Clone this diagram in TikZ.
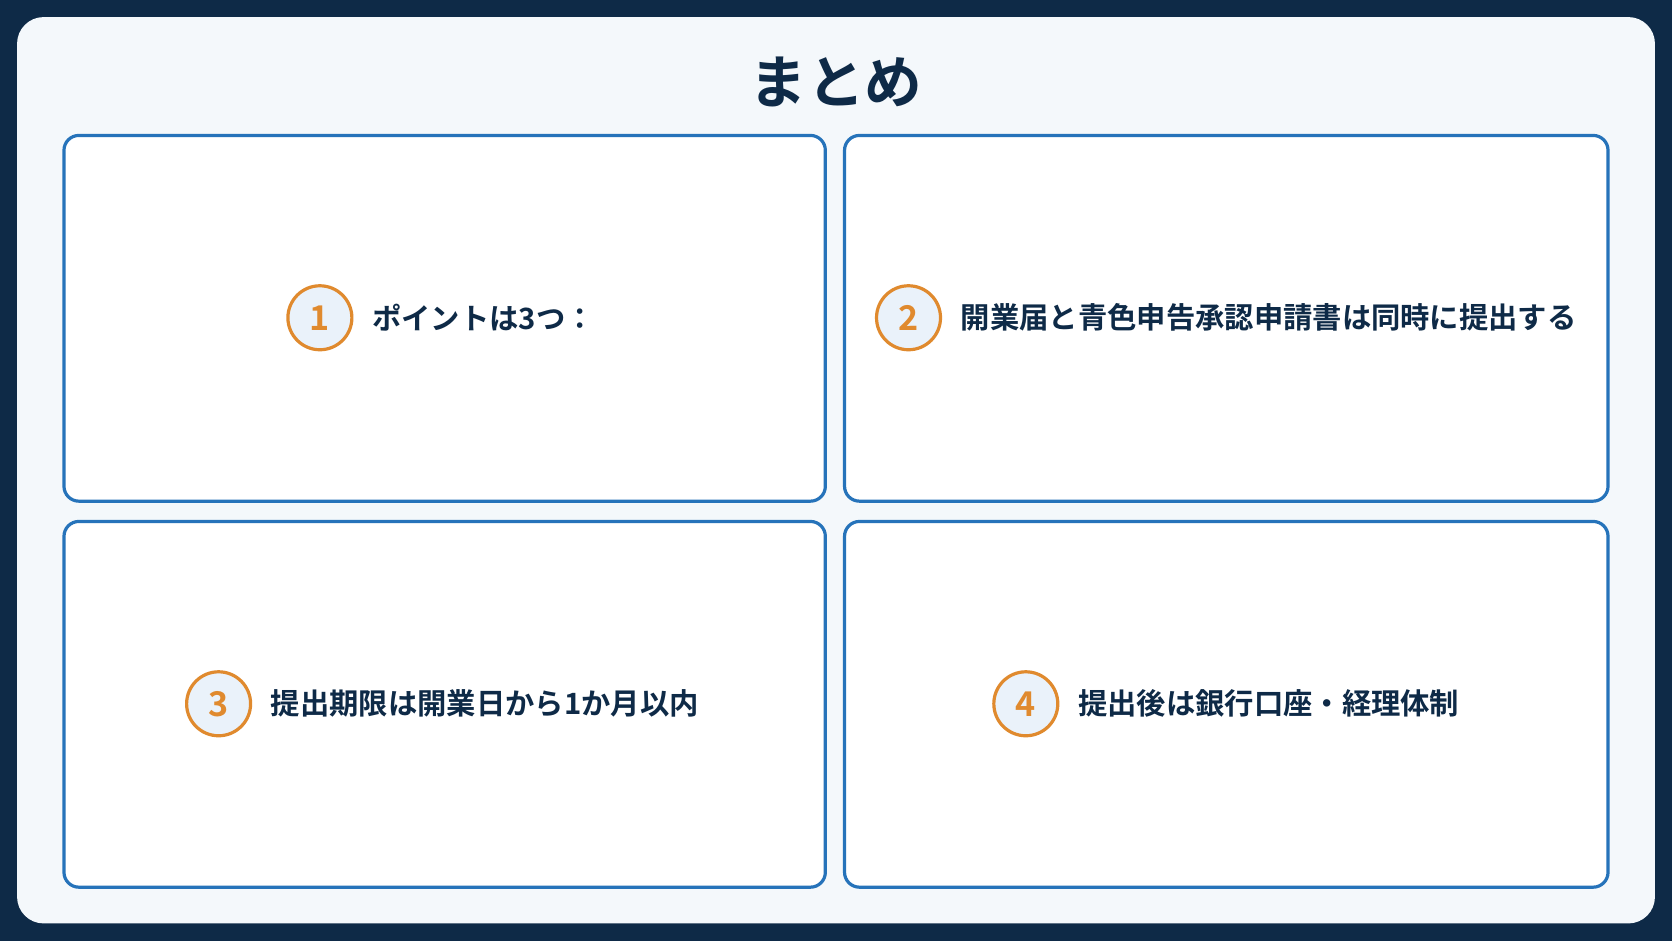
\documentclass[tikz,border=0pt]{standalone}
\usepackage{fontspec}
\newfontfamily\cjk{Noto Sans CJK JP Bold}
\usetikzlibrary{positioning}
\definecolor{navy}{HTML}{0E2A47}
\definecolor{panel}{HTML}{F4F8FB}
\definecolor{cardblue}{HTML}{2673BA}
\definecolor{accent}{HTML}{E08A2E}
\definecolor{badgefill}{HTML}{EAF2FA}

\begin{document}
\begin{tikzpicture}[
    x=1pt, y=-1pt,
    card/.style = {draw=cardblue, line width=3pt, fill=white, rounded corners=14pt},
    badge/.style = {circle, draw=accent, line width=3pt, fill=badgefill,
minimum size=60pt, inner sep=0pt, text=accent, font=\cjk\fontsize{32}{32}\selectfont},
    point/.style = {right=14pt of #1, anchor=west, text=navy, font=\cjk\fontsize{27.5}{27.5}\selectfont},
    node distance=14pt
]

  \fill[navy] (0,0) rectangle (1568,882);
  \useasboundingbox (0,0) rectangle (1568,882);
  \fill[panel, rounded corners=25pt] (16,16) rectangle (1552,866);
  \node (title) [text=navy, font=\cjk\fontsize{54}{54}\selectfont] at (784,77) {まとめ};

  % cards
  \draw[card] (60,127) rectangle (774,470);
  \draw[card] (792,127) rectangle (1508,470);
  \draw[card] (60,489) rectangle (774,832);
  \draw[card] (792,489) rectangle (1508,832);

  \node (b1) [badge] at (300,298) {1};
  \node (t1) [point=b1] {ポイントは3つ：};
  \node (b2) [badge] at (852,298) {2};
  \node (t2) [point=b2] {開業届と青色申告承認申請書は同時に提出する};
  \node (b3) [badge] at (205,660) {3};
  \node (t3) [point=b3] {提出期限は開業日から1か月以内};
  \node (b4) [badge] at (962,660) {4};
  \node (t4) [point=b4] {提出後は銀行口座・経理体制};

\end{tikzpicture}
\end{document}
